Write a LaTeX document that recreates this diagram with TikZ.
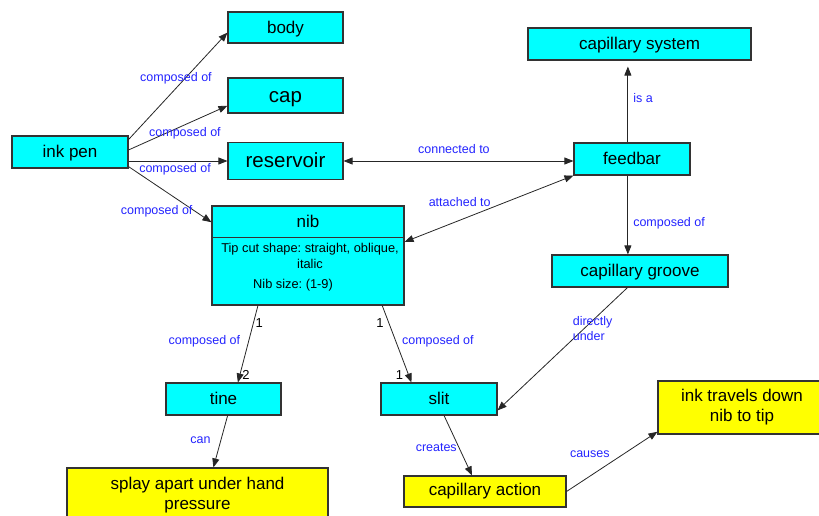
\documentclass[tikz,border=0pt]{standalone}
\usepackage{fontspec}
\setmainfont{Liberation Sans}
\usetikzlibrary{arrows.meta}
\definecolor{boxcyan}{RGB}{0,255,255}
\definecolor{boxyellow}{RGB}{255,255,0}
\definecolor{linkblue}{RGB}{36,36,255}
\frenchspacing
\begin{document}
\begin{tikzpicture}[x=1pt,y=-1pt,
    box/.style={draw=black!80, line width=1.1pt, inner sep=0pt},
    concept/.style={box, fill=boxcyan, text height=15.3pt, text depth=4.1pt,
      font=\fontsize{17}{20}\selectfont},
    bigconcept/.style={concept, text height=18.5pt, text depth=4.9pt,
      font=\fontsize{20.5}{24}\selectfont},
    result/.style={box, fill=boxyellow, align=center, font=\fontsize{17}{20}\selectfont},
    attr/.style={inner sep=0pt, align=center, font=\fontsize{12.8}{16}\selectfont},
    link/.style={inner sep=2pt, text=linkblue, align=left,
      font=\fontsize{12.5}{15}\selectfont},
    num/.style={inner sep=2pt, font=\fontsize{13}{15}\selectfont},
    rel/.style={draw=black!85, line width=0.8pt, -{Triangle[length=9pt,width=7pt]}},
    birel/.style={rel, {Triangle[length=9pt,width=7pt]}-{Triangle[length=9pt,width=7pt]}}]
  \useasboundingbox (0,0) rectangle (819,516);
  % concepts
  \node[concept, minimum width=116, minimum height=32] (inkpen) at (70,152) {ink pen};
  \node[concept, minimum width=115, minimum height=31] (body) at (285.5,27.5) {body};
  \node[bigconcept, minimum width=115, minimum height=35] (cap) at (285.5,95.5) {cap};
  \node[bigconcept, minimum width=115, minimum height=37] (reservoir) at (285.5,161) {reservoir};
  \node[concept, minimum width=192, minimum height=99] (nib) at (308,255.5) {};
  \node[inner sep=0pt, minimum height=31, text height=15.3pt, text depth=4.1pt,
    font=\fontsize{17}{20}\selectfont] (nibtitle) at (308,221.5) {nib};
  \draw[draw=black!80, line width=1.1pt] (nib.west |- nibtitle.south) -- (nib.east |- nibtitle.south);
  \node[attr] (nibshape) at (310,256) {Tip cut shape: straight, oblique,\\italic};
  \node[attr] (nibsize) at (293,285) {Nib size: (1-9)};
  \node[concept, minimum width=223, minimum height=32] (capsys) at (639.5,44) {capillary system};
  \node[concept, minimum width=116, minimum height=32] (feedbar) at (632,159) {feedbar};
  \node[concept, minimum width=176, minimum height=32] (groove) at (640,271) {capillary groove};
  \node[concept, minimum width=115, minimum height=32] (tine) at (223.5,399) {tine};
  \node[concept, minimum width=116, minimum height=32] (slit) at (439,399) {slit};
  \node[result, minimum width=261, minimum height=54] (splay) at (197.5,495) {splay apart under hand\\pressure};
  \node[result, minimum width=162, minimum height=31] (capact) at (485,491.5) {capillary action};
  \node[result, minimum width=168, minimum height=53] (inktip) at (742,407.5) {ink travels down\\nib to tip};
  % links
  \begin{scope}
    \draw[rel] (inkpen.12) -- node[link, pos=.57, xshift=-9pt] {composed of} (body.185);
    \draw[rel] (inkpen.2) -- node[link, pos=.57, anchor=north] {composed of} (cap.190);
    \draw[rel] (inkpen.east |- reservoir.west) -- node[link, pos=.47, anchor=north] {composed of} (reservoir.west);
    \draw[rel] (inkpen.-14) -- node[link, pos=.8, anchor=east] {composed of} (nib.161);
    \draw[birel] (reservoir.east) -- node[link, pos=.48, anchor=south, yshift=5pt] {connected to} (feedbar.west |- reservoir.east);
    \draw[birel] (feedbar.south west) -- node[link, pos=.5, anchor=south east, xshift=4pt] {attached to} (nib.8);
    \draw[rel, shorten >=6pt] (feedbar.104) -- node[link, pos=.54, anchor=west, xshift=3pt] {is a} (feedbar.104 |- capsys.south);
    \draw[rel] (feedbar.256) -- node[link, pos=.6, anchor=west, xshift=3pt] {composed of} (feedbar.256 |- groove.north);
    \draw[rel] (groove.233) -- node[link, pos=.33, xshift=8pt] {directly\\under} (slit.-11);
    \draw[rel] (nib.225) -- node[num, pos=.23, anchor=west] {1}
      node[link, pos=.47, anchor=east, xshift=-6pt] {composed of}
      node[num, pos=.9, anchor=west] {2} (tine.49);
    \draw[rel] (nib.-34) -- node[num, pos=.23, anchor=east, xshift=-3pt] {1}
      node[link, pos=.46, anchor=west, xshift=4pt] {composed of}
      node[num, pos=.9, anchor=east, xshift=-3pt] {1} (slit.149);
    \draw[rel] (tine.-76) -- node[link, pos=.47, anchor=east, xshift=-8pt] {can} (splay.60);
    \draw[rel] (slit.-73) -- node[link, pos=.54, anchor=east] {creates} (capact.129);
    \draw[rel] (capact.east) -- node[link, pos=.5, anchor=south east, yshift=2pt] {causes} (inktip.196);
  \end{scope}
\end{tikzpicture}
\end{document}
